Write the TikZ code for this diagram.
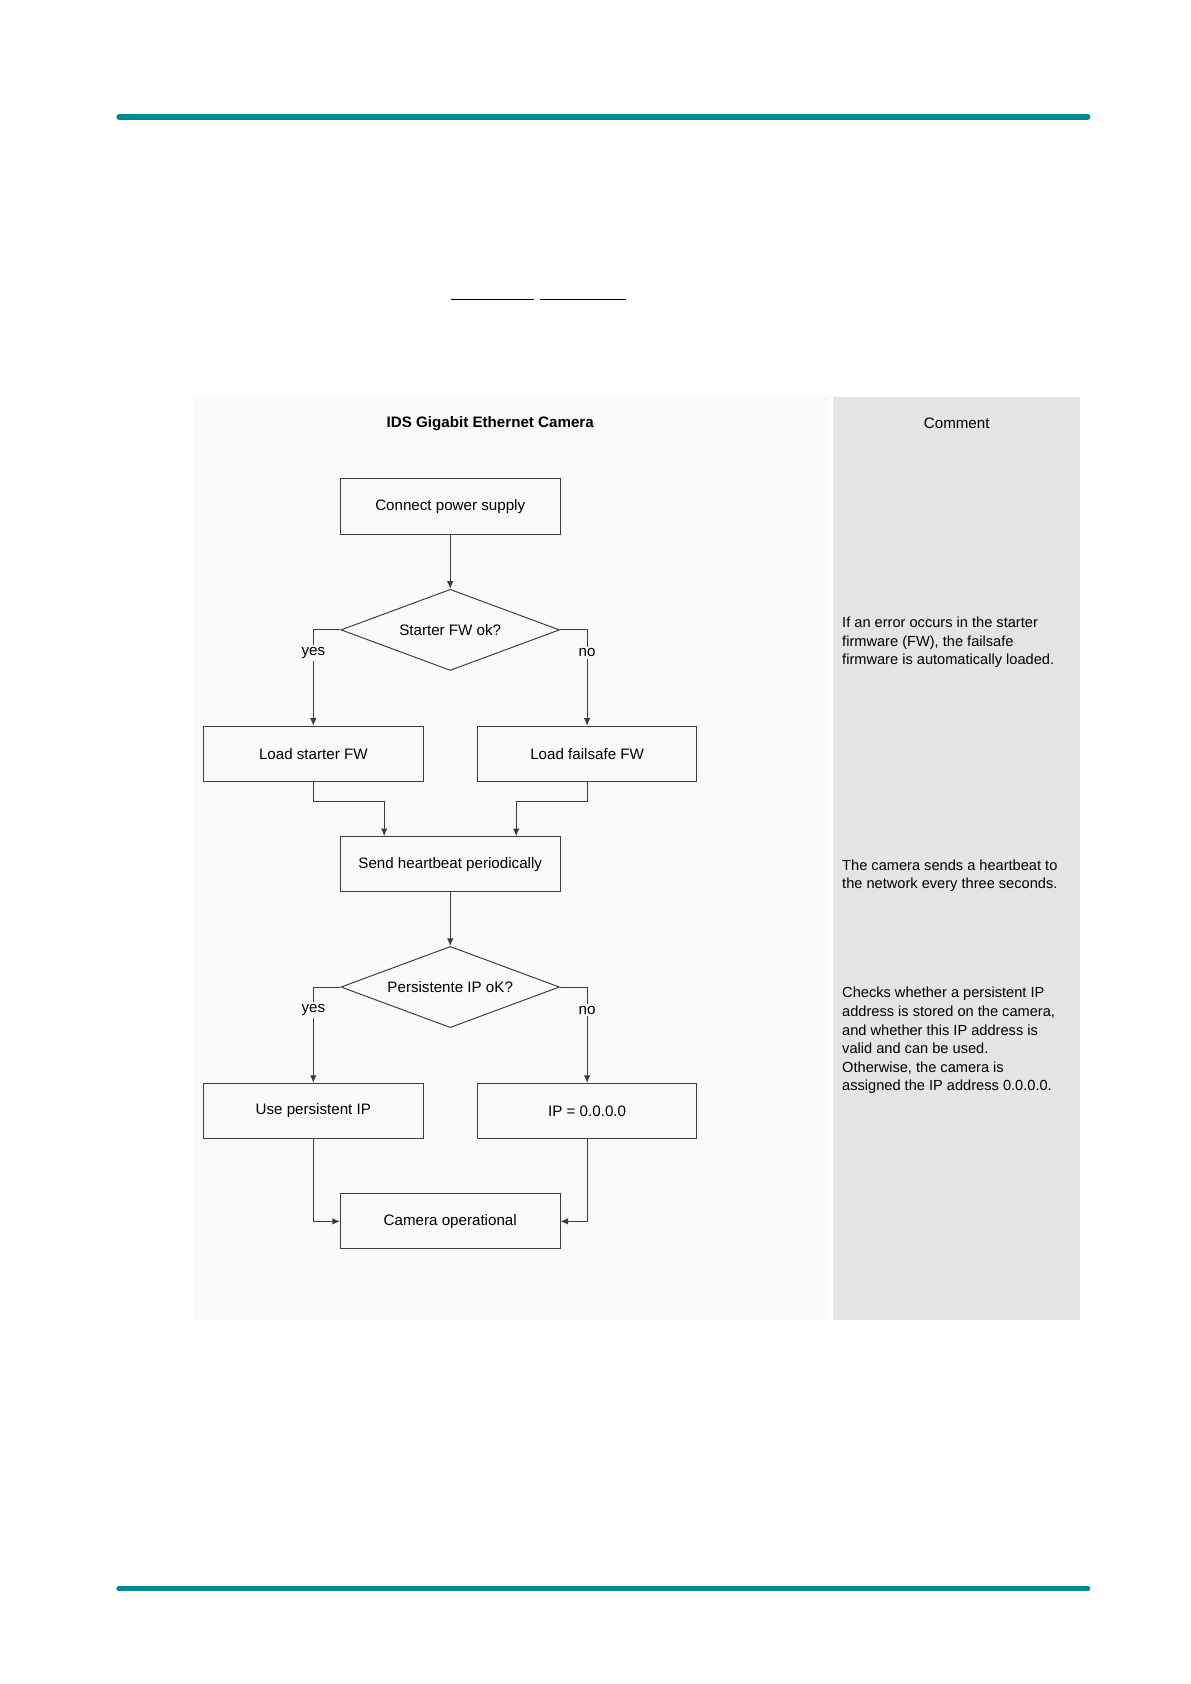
\documentclass[tikz,border=0pt]{standalone}
\usepackage{fontspec}
\setmainfont{Liberation Sans}
\usetikzlibrary{shapes.geometric,arrows.meta}
\definecolor{teal1}{RGB}{0,136,150}
\definecolor{lbg}{RGB}{250,250,250}
\definecolor{rbg}{RGB}{229,229,229}
\definecolor{ln}{RGB}{60,60,60}
\begin{document}
\begin{tikzpicture}[x=1pt,y=-1pt,
  box/.style={draw=ln,line width=0.9pt,minimum width=203pt,minimum height=51pt,inner sep=0pt,font=\fontsize{14}{16}\selectfont},
  dia/.style={draw=ln,line width=0.9pt,diamond,aspect=2.7,minimum width=202pt,minimum height=75pt,inner sep=0pt,font=\fontsize{14}{16}\selectfont},
  arr/.style={draw=ln,line width=0.9pt,-{Latex[length=7pt,width=6pt]}},
  lbl/.style={fill=lbg,inner sep=2pt,font=\fontsize{14}{16}\selectfont},
  cmt/.style={anchor=north west,align=left,inner sep=0pt,font=\fontsize{13.5}{17.2}\selectfont}]
\useasboundingbox (0,0) rectangle (1100,1556);
\fill[white] (0,0) rectangle (1100,1556);
\draw[teal1,line width=5pt,line cap=round] (110,108) -- (1005,108);
\draw[teal1,line width=5pt,line cap=round] (110,1468) -- (1005,1468);
\draw[black,line width=0.8pt] (417,277) -- (493,277) (499,277) -- (578,277);
\fill[lbg] (180,367) rectangle (765,1220);
\fill[rbg] (770,367) rectangle (998,1220);
\node[font=\bfseries\fontsize{14}{16}\selectfont] (title) at (453,391) {IDS Gigabit Ethernet Camera};
\node[font=\fontsize{14}{16}\selectfont] (ctitle) at (884,391) {Comment};
\node[box] (b1) at (416,468) {Connect power supply};
\node[dia] (d1) at (416,582) {Starter FW ok?};
\node[box] (b2) at (289.5,696.5) {Load starter FW};
\node[box] (b3) at (542.5,696.5) {Load failsafe FW};
\node[box] (b4) at (416,798.5) {Send heartbeat periodically};
\node[dia] (d2) at (416,912) {Persistente IP oK?};
\node[box] (b5) at (289.5,1026.5) {Use persistent IP};
\node[box] (b6) at (542.5,1026.5) {IP = 0.0.0.0};
\node[box] (b7) at (416,1128.5) {Camera operational};
\draw[arr] (b1) -- (d1);
\draw[arr] (d1.west) -| node[lbl,pos=0.62] {yes} (b2.north);
\draw[arr] (d1.east) -| node[lbl,pos=0.62] {no} (b3.north);
\coordinate (m1) at (355,741);
\coordinate (m2) at (477,741);
\draw[arr] (b2.south) |- (m1) -- (m1 |- b4.north);
\draw[arr] (b3.south) |- (m2) -- (m2 |- b4.north);
\draw[arr] (b4) -- (d2);
\draw[arr] (d2.west) -| node[lbl,pos=0.62] {yes} (b5.north);
\draw[arr] (d2.east) -| node[lbl,pos=0.62] {no} (b6.north);
\draw[arr] (b5.south) |- (b7.west);
\draw[arr] (b6.south) |- (b7.east);
\node[cmt] (c1) at (778,570) {If an error occurs in the starter\\firmware (FW), the failsafe\\firmware is automatically loaded.};
\node[cmt] (c2) at (778,794) {The camera sends a heartbeat to\\the network every three seconds.};
\node[cmt] (c3) at (778,912) {Checks whether a persistent IP\\address is stored on the camera,\\and whether this IP address is\\valid and can be used.\\Otherwise, the camera is\\assigned the IP address 0.0.0.0.};
\end{tikzpicture}
\end{document}
